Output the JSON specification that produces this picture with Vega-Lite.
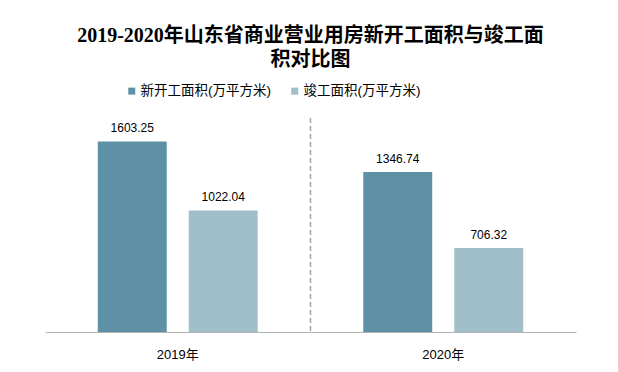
{
  "$schema": "https://vega.github.io/schema/vega-lite/v6.json",
  "width": 531,
  "height": 214,
  "autosize": {"type": "none"},
  "padding": {"left": 45, "top": 118, "right": 42, "bottom": 40},
  "background": "white",
  "title": {
    "text": ["2019-2020年山东省商业营业用房新开工面积与竣工面", "积对比图"],
    "font": "Liberation Serif, Noto Sans CJK SC",
    "fontSize": 20,
    "fontWeight": "bold",
    "color": "#000000",
    "anchor": "middle",
    "frame": "group",
    "lineHeight": 24,
    "offset": 14
  },
  "config": {
    "view": {"stroke": null},
    "font": "Noto Sans CJK SC"
  },
  "data": {
    "values": [
      {"year": "2019年", "type": "新开工面积(万平方米)", "value": 1603.25},
      {"year": "2019年", "type": "竣工面积(万平方米)", "value": 1022.04},
      {"year": "2020年", "type": "新开工面积(万平方米)", "value": 1346.74},
      {"year": "2020年", "type": "竣工面积(万平方米)", "value": 706.32}
    ]
  },
  "layer": [
    {
      "mark": {"type": "bar"},
      "encoding": {
        "x": {
          "field": "year",
          "type": "nominal",
          "scale": {"paddingInner": 0, "paddingOuter": 0},
          "axis": {
            "title": null,
            "labelAngle": 0,
            "labelFontSize": 13,
            "labelColor": "#000000",
            "labelFont": "Liberation Sans, Noto Sans CJK SC",
            "labelPadding": 16,
            "ticks": false,
            "domainColor": "#b4b4b4",
            "domainWidth": 1
          }
        },
        "xOffset": {
          "field": "type",
          "type": "nominal",
          "sort": ["新开工面积(万平方米)", "竣工面积(万平方米)"],
          "scale": {"paddingInner": 0.242, "paddingOuter": 0.58}
        },
        "y": {
          "field": "value",
          "type": "quantitative",
          "scale": {"domain": [0, 1800]},
          "axis": null
        },
        "color": {
          "field": "type",
          "type": "nominal",
          "sort": ["新开工面积(万平方米)", "竣工面积(万平方米)"],
          "scale": {"range": ["#5e91a6", "#a1becb"]},
          "legend": {
            "title": null,
            "orient": "none",
            "legendX": 80,
            "legendY": -34,
            "direction": "horizontal",
            "symbolType": "square",
            "symbolSize": 49,
            "symbolStrokeWidth": 0,
            "labelFontSize": 13.5,
            "labelColor": "#000000",
            "labelFont": "Liberation Sans, Noto Sans CJK SC",
            "labelOffset": 2,
            "columnPadding": 17,
            "labelLimit": 300
          }
        }
      }
    },
    {
      "mark": {"type": "text", "dy": -13, "baseline": "middle", "fontSize": 12, "color": "#000000", "font": "Liberation Sans, Noto Sans CJK SC"},
      "encoding": {
        "x": {"field": "year", "type": "nominal"},
        "xOffset": {"field": "type", "type": "nominal", "sort": ["新开工面积(万平方米)", "竣工面积(万平方米)"]},
        "y": {"field": "value", "type": "quantitative"},
        "text": {"field": "value", "type": "quantitative", "format": ".2f"}
      }
    },
    {
      "data": {"values": [{"year": "2020年"}]},
      "mark": {"type": "rule", "color": "#a6a6a6", "strokeWidth": 1.5, "strokeDash": [5, 3]},
      "encoding": {
        "x": {"field": "year", "type": "nominal", "bandPosition": 0}
      }
    }
  ]
}
